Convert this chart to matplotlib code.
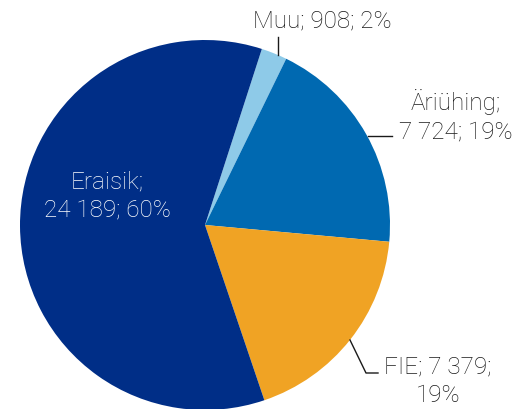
import matplotlib.pyplot as plt

labels = ["Muu", "Äriühing", "FIE", "Eraisik"]
values = [908, 7724, 7379, 24189]
percents = [2, 19, 19, 60]
colors = ["#8ECAE8", "#0069B1", "#F0A324", "#002E87"]

plt.rcParams.update({
    "font.family": ["Roboto", "DejaVu Sans"],
    "font.weight": "light",
    "font.size": 17.5,
})

W, H = 517, 409
fig = plt.figure(figsize=(W / 100, H / 100), dpi=100)
ax = fig.add_axes([0, 0, 1, 1])

cx, cy, r = 205, H - 225, 185
start = 90 - 17.9
ax.pie(values, colors=colors, startangle=start, counterclock=False,
       center=(cx, cy), radius=r, frame=True,
       wedgeprops=dict(linewidth=0))
ax.set_xlim(0, W)
ax.set_ylim(0, H)
ax.set_aspect("equal")
ax.axis("off")


def fmt(v):
    return f"{v:,}".replace(",", " ")


txt = {lab: (fmt(v), p) for lab, v, p in zip(labels, values, percents)}
ink = "#1a1a1a"

# Muu
ax.text(322, H - 21, f"Muu; {txt['Muu'][0]}; {txt['Muu'][1]}%",
        ha="center", va="center", color=ink)
ax.plot([278, 278], [H - 37, H - 55], color=ink, lw=1)

# Äriühing
ax.text(456, H - 116, f"Äriühing;\n{txt['Äriühing'][0]}; {txt['Äriühing'][1]}%",
        ha="center", va="center", color=ink, linespacing=1.3)
ax.plot([368, 392], [H - 136, H - 136], color=ink, lw=1)

# FIE
ax.text(438, H - 381, f"FIE; {txt['FIE'][0]};\n{txt['FIE'][1]}%",
        ha="center", va="center", color=ink, linespacing=1.3)
ax.plot([350, 366, 378], [H - 340, H - 373, H - 373], color=ink, lw=1)

# Eraisik
ax.text(107, H - 196, f"Eraisik;\n{txt['Eraisik'][0]}; {txt['Eraisik'][1]}%",
        ha="center", va="center", color="white", linespacing=1.3)

fig.savefig("out.png", dpi=100)
